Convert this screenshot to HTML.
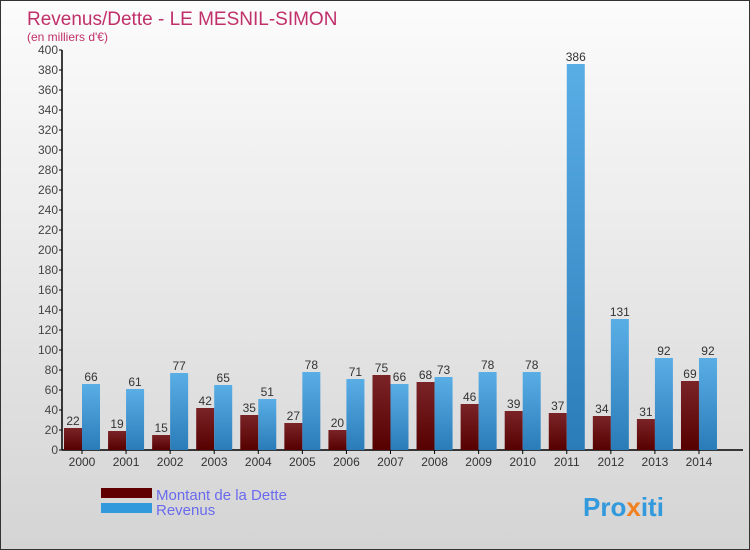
<!DOCTYPE html>
<html><head><meta charset="utf-8"><style>
body{margin:0;}
#c{width:748px;height:548px;border:1px solid #333;background:linear-gradient(#fcfcfc,#d4d4d4);position:relative;font-family:"Liberation Sans",sans-serif;overflow:hidden}
</style></head><body>
<div id="c">
<svg width="748" height="548" id="s">
<defs>
<linearGradient id="gd" x1="0" y1="0" x2="0" y2="1"><stop offset="0" stop-color="#7a2428"/><stop offset="1" stop-color="#560000"/></linearGradient>
<linearGradient id="gr" x1="0" y1="0" x2="0" y2="1"><stop offset="0" stop-color="#5aaee6"/><stop offset="1" stop-color="#2a7cb8"/></linearGradient>
</defs>
<text x="26" y="24" font-size="19" fill="#c0306a">Revenus/Dette - LE MESNIL-SIMON</text>
<text x="26" y="40" font-size="12" fill="#c0306a">(en milliers d'€)</text>
<g id="g"></g>
<rect x="100" y="487" width="51" height="10" fill="#600000"/>
<rect x="100" y="502" width="51" height="10" fill="#3399dd"/>
<text x="155" y="499" font-size="15" fill="#6a6aee">Montant de la Dette</text>
<text x="155" y="514" font-size="15" fill="#6a6aee">Revenus</text>
<text x="582" y="515" font-size="26" font-weight="bold" fill="#3399dd">Pro<tspan fill="#f08020">x</tspan>iti</text>
</svg>
</div>
<script>
const years=["2000","2001","2002","2003","2004","2005","2006","2007","2008","2009","2010","2011","2012","2013","2014"];
const dette=[22,19,15,42,35,27,20,75,68,46,39,37,34,31,69];
const revenus=[66,61,77,65,51,78,71,66,73,78,78,386,131,92,92];
const ticks=[0,20,40,60,80,100,120,140,160,180,200,220,240,260,280,300,320,340,360,380,400];
const NS="http://www.w3.org/2000/svg";
const g=document.getElementById('g');
const y0=449,yTop=49,vmax=400;
const yS=v=>y0-(y0-yTop)*v/vmax;
const x0=81,step=44.07,bw=18;
const xC=i=>x0+i*step;
function mk(t,a){const e=document.createElementNS(NS,t);for(const k in a)e.setAttribute(k,a[k]);g.appendChild(e);return e;}
let ax=mk('line',{x1:61,y1:yTop,x2:61,y2:y0,stroke:'#000','stroke-width':1.5});


let bx=mk('line',{x1:61,y1:y0,x2:742,y2:y0,stroke:'#000','stroke-width':1.5});


ticks.forEach(v=>{
 let l=mk('line',{x1:58,x2:61,y1:yS(v),y2:yS(v),stroke:'#000'});
 
 
 let t=mk('text',{x:57,y:yS(v)+4,'font-size':12,fill:'#444','text-anchor':'end'});t.textContent=v;
 
 
});
years.forEach((y,i)=>{
 const c=xC(i);
 let tk=mk('line',{x1:c,x2:c,y1:y0,y2:y0+4,stroke:'#000'});
 
 
 let t=mk('text',{x:c,y:y0+16,'font-size':12,fill:'#333','text-anchor':'middle'});t.textContent=y;
 
 
 let b1=mk('rect',{x:c-bw,y:yS(dette[i]),width:bw,height:y0-yS(dette[i]),fill:'url(#gd)'});
 
 
 let b2=mk('rect',{x:c,y:yS(revenus[i]),width:bw,height:y0-yS(revenus[i]),fill:'url(#gr)'});
 
 
 let l1=mk('text',{x:c-bw/2,y:yS(dette[i])-3,'font-size':12,fill:'#333','text-anchor':'middle'});l1.textContent=dette[i];
 
 
 let l2=mk('text',{x:c+bw/2,y:yS(revenus[i])-3,'font-size':12,fill:'#333','text-anchor':'middle'});l2.textContent=revenus[i];
 
 
});
</script>
</body></html>
